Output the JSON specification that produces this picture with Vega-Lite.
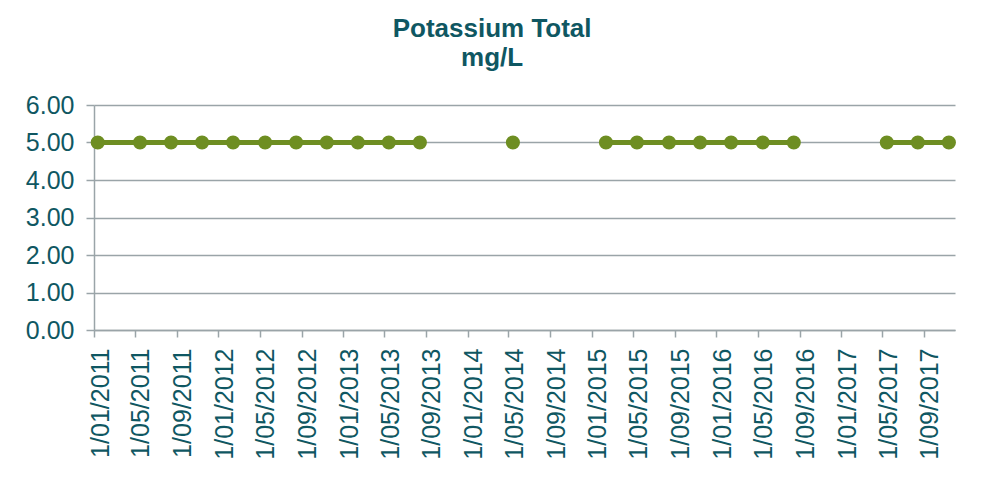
{
  "$schema": "https://vega.github.io/schema/vega-lite/v6.json",
  "width": 861,
  "height": 225,
  "padding": {"left": 25, "top": 16, "right": 30, "bottom": 10},
  "background": "white",
  "title": {
    "text": ["Potassium Total", "mg/L"],
    "font": "Liberation Sans",
    "fontSize": 26,
    "fontWeight": "bold",
    "color": "#0F5762",
    "anchor": "middle",
    "frame": "bounds",
    "lineHeight": 29,
    "offset": 22
  },
  "data": {
    "values": [
      {"date": "2011-01-12", "value": 5},
      {"date": "2011-05-16", "value": 5},
      {"date": "2011-08-15", "value": 5},
      {"date": "2011-11-14", "value": 5},
      {"date": "2012-02-13", "value": 5},
      {"date": "2012-05-17", "value": 5},
      {"date": "2012-08-16", "value": 5},
      {"date": "2012-11-14", "value": 5},
      {"date": "2013-02-13", "value": 5},
      {"date": "2013-05-15", "value": 5},
      {"date": "2013-08-14", "value": 5},
      {"date": "2013-11-14", "value": null},
      {"date": "2014-02-13", "value": null},
      {"date": "2014-05-14", "value": 5},
      {"date": "2014-08-14", "value": null},
      {"date": "2014-11-13", "value": null},
      {"date": "2015-02-11", "value": 5},
      {"date": "2015-05-13", "value": 5},
      {"date": "2015-08-15", "value": 5},
      {"date": "2015-11-14", "value": 5},
      {"date": "2016-02-13", "value": 5},
      {"date": "2016-05-16", "value": 5},
      {"date": "2016-08-15", "value": 5},
      {"date": "2016-11-14", "value": null},
      {"date": "2017-02-13", "value": null},
      {"date": "2017-05-15", "value": 5},
      {"date": "2017-08-14", "value": 5},
      {"date": "2017-11-13", "value": 5}
    ]
  },
  "encoding": {
    "x": {
      "field": "date",
      "type": "temporal",
      "scale": {
        "type": "utc",
        "domain": [
          {"year": 2011, "month": 1, "date": 1, "utc": true},
          {"year": 2017, "month": 12, "date": 1, "utc": true}
        ]
      },
      "axis": {
        "title": null,
        "format": "%-d/%m/%Y",
        "labelAngle": 270,
        "tickCount": {"interval": "month", "step": 4},
        "labelPadding": 11,
        "tickSize": 7,
        "grid": false,
        "labelOffset": 6,
        "labelOverlap": false,
        "labelFlush": false
      }
    },
    "y": {
      "field": "value",
      "type": "quantitative",
      "scale": {"domain": [0, 6], "nice": false},
      "axis": {
        "title": null,
        "format": ".2f",
        "values": [0, 1, 2, 3, 4, 5, 6],
        "labelPadding": 12,
        "tickSize": 8,
        "grid": true
      }
    }
  },
  "layer": [
    {
      "mark": {
        "type": "line",
        "color": "#6E8E22",
        "strokeWidth": 5,
        "invalid": "break-paths-filter-domains"
      }
    },
    {
      "mark": {
        "type": "point",
        "filled": true,
        "size": 200,
        "color": "#6E8E22",
        "opacity": 1
      }
    }
  ],
  "config": {
    "view": {"stroke": null},
    "axis": {
      "labelFont": "Liberation Sans",
      "labelFontSize": 25,
      "labelColor": "#0F5762",
      "domainColor": "#9AA4A8",
      "tickColor": "#9AA4A8",
      "gridColor": "#9AA4A8",
      "domainWidth": 1.5,
      "tickWidth": 1.5,
      "gridWidth": 1.5
    }
  }
}
